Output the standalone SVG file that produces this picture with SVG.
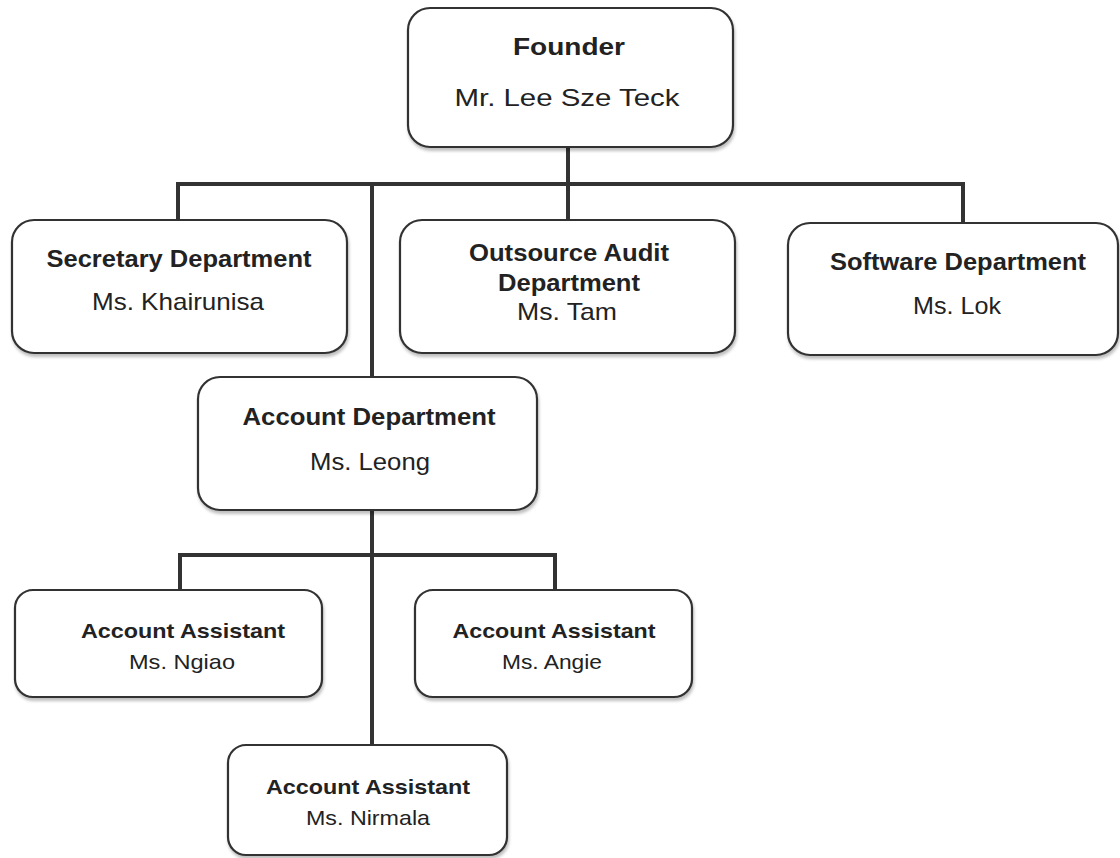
<svg xmlns="http://www.w3.org/2000/svg" width="1120" height="858" viewBox="0 0 1120 858">
<defs>
<filter id="sh" x="-5%" y="-5%" width="110%" height="120%">
<feDropShadow dx="1" dy="3" stdDeviation="1.5" flood-color="#000" flood-opacity="0.25"/>
</filter>
<style>
.box{fill:#fff;stroke:#333;stroke-width:2.2;filter:url(#sh)}
.t{font-family:"Liberation Sans",Arial,sans-serif;fill:#222;text-anchor:middle}
.b{font-weight:bold;font-size:23px}
.n{font-size:24px}
.sb{font-weight:bold;font-size:21px}
.sn{font-size:21px}
.c{fill:none;stroke:#333;stroke-width:4;stroke-linejoin:miter;stroke-linecap:square}
</style>
</defs>
<rect width="1120" height="858" fill="#fff"/>
<g id="connectors">
<path class="c" d="M568 148 V184 M178 220 V184 H963 V222 M568 184 V220 M372 184 V377"/>
<path class="c" d="M372 510 V555 M180 590 V555 H555 V590 M372 555 V745"/>
</g>
<g id="founder">
<rect class="box" x="408" y="8" width="325" height="139" rx="22"/>
<text class="t b" x="569" y="55" textLength="112" lengthAdjust="spacingAndGlyphs">Founder</text>
<text class="t n" x="567" y="106" textLength="225" lengthAdjust="spacingAndGlyphs">Mr. Lee Sze Teck</text>
</g>
<g id="secretary">
<rect class="box" x="12" y="220" width="335" height="133" rx="22"/>
<text class="t b" x="179" y="267" textLength="265" lengthAdjust="spacingAndGlyphs">Secretary Department</text>
<text class="t n" x="178" y="310" textLength="172" lengthAdjust="spacingAndGlyphs">Ms. Khairunisa</text>
</g>
<g id="outsource">
<rect class="box" x="400" y="220" width="335" height="133" rx="22"/>
<text class="t b" x="569" y="261" textLength="200" lengthAdjust="spacingAndGlyphs">Outsource Audit</text>
<text class="t b" x="569" y="291" textLength="142" lengthAdjust="spacingAndGlyphs">Department</text>
<text class="t n" x="567" y="320" textLength="100" lengthAdjust="spacingAndGlyphs">Ms. Tam</text>
</g>
<g id="software">
<rect class="box" x="788" y="223" width="330" height="132" rx="22"/>
<text class="t b" x="958" y="270" textLength="256" lengthAdjust="spacingAndGlyphs">Software Department</text>
<text class="t n" x="957" y="314" textLength="88" lengthAdjust="spacingAndGlyphs">Ms. Lok</text>
</g>
<g id="account">
<rect class="box" x="198" y="377" width="339" height="133" rx="22"/>
<text class="t b" x="369" y="425" textLength="253" lengthAdjust="spacingAndGlyphs">Account Department</text>
<text class="t n" x="370" y="470" textLength="120" lengthAdjust="spacingAndGlyphs">Ms. Leong</text>
</g>
<g id="ngiao">
<rect class="box" x="15" y="590" width="307" height="107" rx="18"/>
<text class="t sb" x="183" y="638" textLength="204" lengthAdjust="spacingAndGlyphs">Account Assistant</text>
<text class="t sn" x="182" y="669" textLength="106" lengthAdjust="spacingAndGlyphs">Ms. Ngiao</text>
</g>
<g id="angie">
<rect class="box" x="415" y="590" width="277" height="107" rx="18"/>
<text class="t sb" x="554" y="638" textLength="203" lengthAdjust="spacingAndGlyphs">Account Assistant</text>
<text class="t sn" x="552" y="669" textLength="100" lengthAdjust="spacingAndGlyphs">Ms. Angie</text>
</g>
<g id="nirmala">
<rect class="box" x="228" y="745" width="279" height="110" rx="18"/>
<text class="t sb" x="368" y="794" textLength="204" lengthAdjust="spacingAndGlyphs">Account Assistant</text>
<text class="t sn" x="368" y="825" textLength="124" lengthAdjust="spacingAndGlyphs">Ms. Nirmala</text>
</g>
</svg>
